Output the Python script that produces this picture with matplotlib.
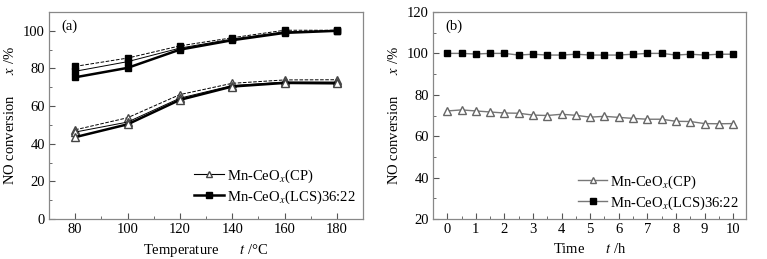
import matplotlib.pyplot as plt
import numpy as np

plt.rcParams['font.family'] = ['Liberation Serif', 'DejaVu Serif']
plt.rcParams['mathtext.fontset'] = 'stix'
plt.rcParams['font.size'] = 10

# panel (a): activity vs temperature
temps = [80, 100, 120, 140, 160, 180]
lcs_a = [75.3, 80.3, 90.0, 95.0, 98.9, 100.0]
lcs_a_thin = [78.5, 83.6, 90.8, 95.6, 99.5, 100.0]
lcs_a_dash = [81.1, 85.5, 92.0, 96.3, 100.3, 100.3]
cp_a = [43.5, 50.3, 63.3, 70.4, 72.3, 72.1]
cp_a_thin = [46.2, 51.5, 64.2, 70.9, 72.8, 72.8]
cp_a_dash = [47.4, 53.8, 66.1, 72.1, 73.9, 74.0]

# panel (b): stability vs time
hours = [0, 0.5, 1, 1.5, 2, 2.5, 3, 3.5, 4, 4.5, 5, 5.5, 6, 6.5, 7, 7.5, 8, 8.5, 9, 9.5, 10]
lcs_b = [100, 100, 99.7, 100, 100, 99.2, 99.6, 99.2, 99.2, 99.6, 99.2,
         99.2, 99.2, 99.6, 100, 100, 99.2, 99.6, 99.2, 99.6, 99.6]
cp_b = [72.2, 72.7, 72.2, 71.7, 71.2, 71.1, 70.2, 70.0, 70.6, 70.1, 69.2,
        69.6, 69.1, 68.6, 68.2, 68.2, 67.2, 67.1, 66.1, 66.0, 66.1]

lab_cp = r'Mn-CeO$_x$(CP)'
lab_lcs = r'Mn-CeO$_x$(LCS)36:22'
ylab = r'NO conversion      $x$ /%'

fig = plt.figure(figsize=(7.67, 2.59), dpi=100)
ax1 = fig.add_axes([0.0639, 0.1544, 0.4094, 0.7993])
ax2 = fig.add_axes([0.5645, 0.1544, 0.4081, 0.7993])

sq = dict(marker='s', color='black', ms=5, mfc='black', mec='black')
tri = dict(marker='^', color='black', ms=6, mfc='white', mec='#444444')

# squares
ax1.plot(temps, lcs_a_dash, ls='--', lw=0.7, **sq)
ax1.plot(temps, lcs_a_thin, ls='-', lw=0.7, **sq)
ax1.plot(temps, lcs_a, ls='-', lw=1.8, **sq)
# triangles
ax1.plot(temps, cp_a_dash, ls='--', lw=0.7, **tri)
ax1.plot(temps, cp_a_thin, ls='-', lw=0.7, **tri)
ax1.plot(temps, cp_a, ls='-', lw=1.8, **tri)

h1, = ax1.plot([], [], ls='-', lw=0.8, marker='^', color='black', ms=5,
               mfc='white', mec='#444444')
h2, = ax1.plot([], [], ls='-', lw=1.8, marker='s', color='black', ms=4.5)
ax1.legend([h1, h2], [lab_cp, lab_lcs], loc='lower left',
           bbox_to_anchor=(0.44, 0.03), frameon=False, borderpad=0,
           handlelength=2.0, handletextpad=0.2, labelspacing=0.25,
           fontsize=10.5)

ax1.set_xlim(70, 190)
ax1.set_ylim(0, 110)
ax1.set_xticks(temps)
ax1.set_xticks(np.arange(90, 190, 20), minor=True)
ax1.set_yticks([0, 20, 40, 60, 80, 100])
ax1.set_yticks([10, 30, 50, 70, 90], minor=True)
ax1.set_xlabel(r'Temperature      $t$ /°C', fontsize=10.5, labelpad=4)
ax1.set_ylabel(ylab, fontsize=10.5, labelpad=4)
ax1.text(0.04, 0.965, '(a)', transform=ax1.transAxes, fontsize=10.5, va='top')

# panel (b)
line_b = dict(ls='-', lw=1.0, color='#777777')
ax2.plot(hours, cp_b, marker='^', ms=6, mfc='white', mec='#666666', **line_b)
ax2.plot(hours, lcs_b, marker='s', ms=5, mfc='black', mec='black', **line_b)
g1, = ax2.plot([], [], marker='^', ms=5, mfc='white', mec='#666666', **line_b)
g2, = ax2.plot([], [], marker='s', ms=4.5, mfc='black', mec='black', **line_b)
ax2.legend([g1, g2], [lab_cp, lab_lcs], loc='lower left',
           bbox_to_anchor=(0.44, 0.0), frameon=False, borderpad=0,
           handlelength=2.0, handletextpad=0.2, labelspacing=0.25,
           fontsize=10.5)

ax2.set_xlim(-0.5, 10.45)
ax2.set_ylim(20, 120)
ax2.set_xticks(range(0, 11))
ax2.set_xticks(np.arange(0.5, 10, 1), minor=True)
ax2.set_yticks([20, 40, 60, 80, 100, 120])
ax2.set_yticks([30, 50, 70, 90, 110], minor=True)
ax2.set_xlabel(r'Time      $t$ /h', fontsize=10.5, labelpad=4)
ax2.set_ylabel(ylab, fontsize=10.5, labelpad=4)
ax2.text(0.04, 0.965, '(b)', transform=ax2.transAxes, fontsize=10.5, va='top')

for ax in (ax1, ax2):
    for s in ax.spines.values():
        s.set_color('#888888')
        s.set_linewidth(0.9)
    ax.tick_params(which='both', direction='in', top=False, right=False,
                   color='#555555', labelsize=10.5, pad=3)
    ax.tick_params(which='major', length=4)
    ax.tick_params(which='minor', length=2.5)

fig.savefig('out.png', dpi=100)
